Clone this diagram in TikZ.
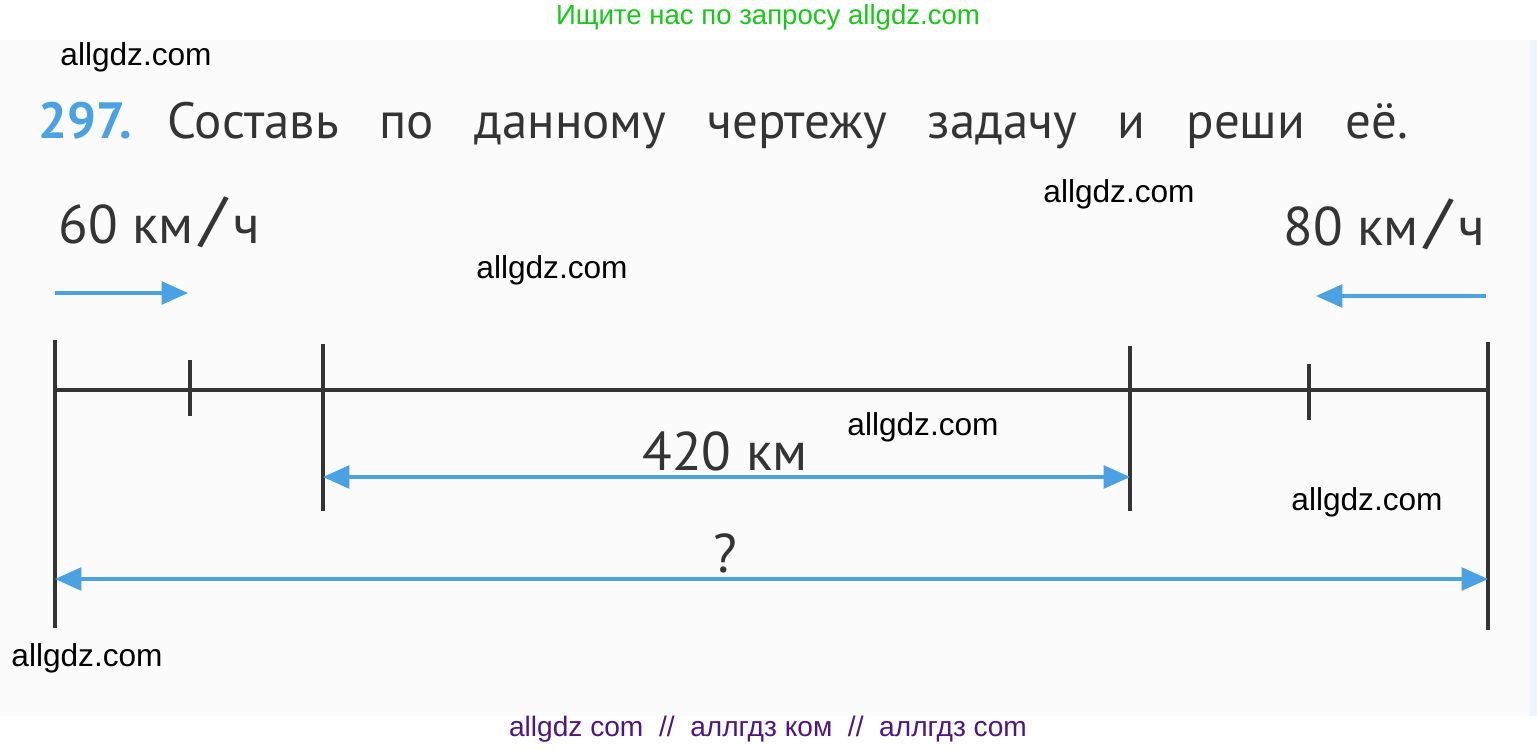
\documentclass[tikz,border=0pt]{standalone}
\usepackage{graphicx}
\usepackage{fontspec}
\setmainfont{PT Sans}
\newfontfamily\wmfont{Liberation Sans}
\usetikzlibrary{arrows.meta}

\definecolor{bookblue}{RGB}{74,162,228}
\definecolor{ink}{RGB}{52,52,52}
\definecolor{page}{RGB}{251,251,252}
\definecolor{adgreen}{RGB}{24,200,24}
\definecolor{adpurple}{RGB}{78,22,130}

\newcommand{\kmh}{км\kern4pt\raisebox{2pt}{\scalebox{1.35}[1.1]{/}}\kern4pt ч}

\tikzset{
  wmark/.style={font=\wmfont\fontsize{18}{20}\selectfont, text=black, inner sep=0pt},
  booktext/.style={font=\fontsize{29}{32}\selectfont, text=ink, inner sep=0pt},
  speed/.style={font=\fontsize{31}{34}\selectfont, text=ink, inner sep=0pt},
  seg/.style={draw=ink, line width=2pt},
  dir/.style={draw=bookblue, line width=1.8pt, -{Triangle[length=15pt,width=13pt]}},
  dist/.style={draw=bookblue, line width=1.8pt,
    {Triangle[length=15pt,width=13pt]}-{Triangle[length=15pt,width=13pt]}},
}

\begin{document}
\begin{tikzpicture}[x=0.02cm, y=-0.02cm]
  \useasboundingbox (0,0) rectangle (1537,750);
  % scanned page
  \fill[page] (0,40) rectangle (1530,716);
  \fill[bookblue!10] (1530,40) rectangle (1537,716);

  % site banners
  \node[font=\wmfont\fontsize{15.7}{18}\selectfont, text=adgreen, inner sep=0pt]
    (top) at (768,17) {Ищите нас по запросу allgdz.com};
  \node[font=\wmfont\fontsize{16}{18}\selectfont, text=adpurple, inner sep=0pt]
    (bottom) at (768,729) {allgdz com\ \ //\ \ аллгдз ком\ \ //\ \ аллгдз com};

  % task heading
  \node[booktext, font=\fontsize{29}{32}\selectfont\bfseries, text=bookblue, anchor=base west]
    (num) at (38,138) {297.};
  \node[booktext, anchor=base west] (task) at (167,138)
    {\makebox[24.82cm][s]{Составь по данному чертежу задачу и реши её.}};

  % speeds
  \node[speed, anchor=base west] (v1) at (58,243) {60 \kmh};
  \node[speed, anchor=base east] (v2) at (1486,245) {80 \kmh};
  \coordinate (v1a) at (55,293);
  \coordinate (v1b) at (188,293);
  \coordinate (v2a) at (1486,296);
  \coordinate (v2b) at (1316,296);
  \draw[dir] (v1a) -- (v1b);
  \draw[dir] (v2a) -- (v2b);

  % road
  \coordinate (A) at (55,390);
  \coordinate (B) at (1488,390);
  \draw[seg] (A) -- (B);
  \foreach \x/\t/\b in {55/340/628, 190/360/416, 323/344/511,
                        1130/346/511, 1309/364/420, 1488/342/630}
    \draw[seg] (\x,\t) -- (\x,\b);

  % distances
  \coordinate (C) at (323,477);
  \coordinate (D) at (1130,477);
  \draw[dist] (C) -- (D);
  \node[speed, anchor=base] (given) at (725,470) {420 км};
  \coordinate (E) at (55,579);
  \coordinate (F) at (1488,579);
  \draw[dist] (E) -- (F);
  \node[speed, anchor=base] (ask) at (725,572) {?};

  % watermarks
  \node[wmark] (w1) at (136,57) {allgdz.com};
  \node[wmark] (w2) at (1119,194) {allgdz.com};
  \node[wmark] (w3) at (552,270) {allgdz.com};
  \node[wmark] (w4) at (923,427) {allgdz.com};
  \node[wmark] (w5) at (1367,502) {allgdz.com};
  \node[wmark] (w6) at (87,658) {allgdz.com};
\end{tikzpicture}
\end{document}
